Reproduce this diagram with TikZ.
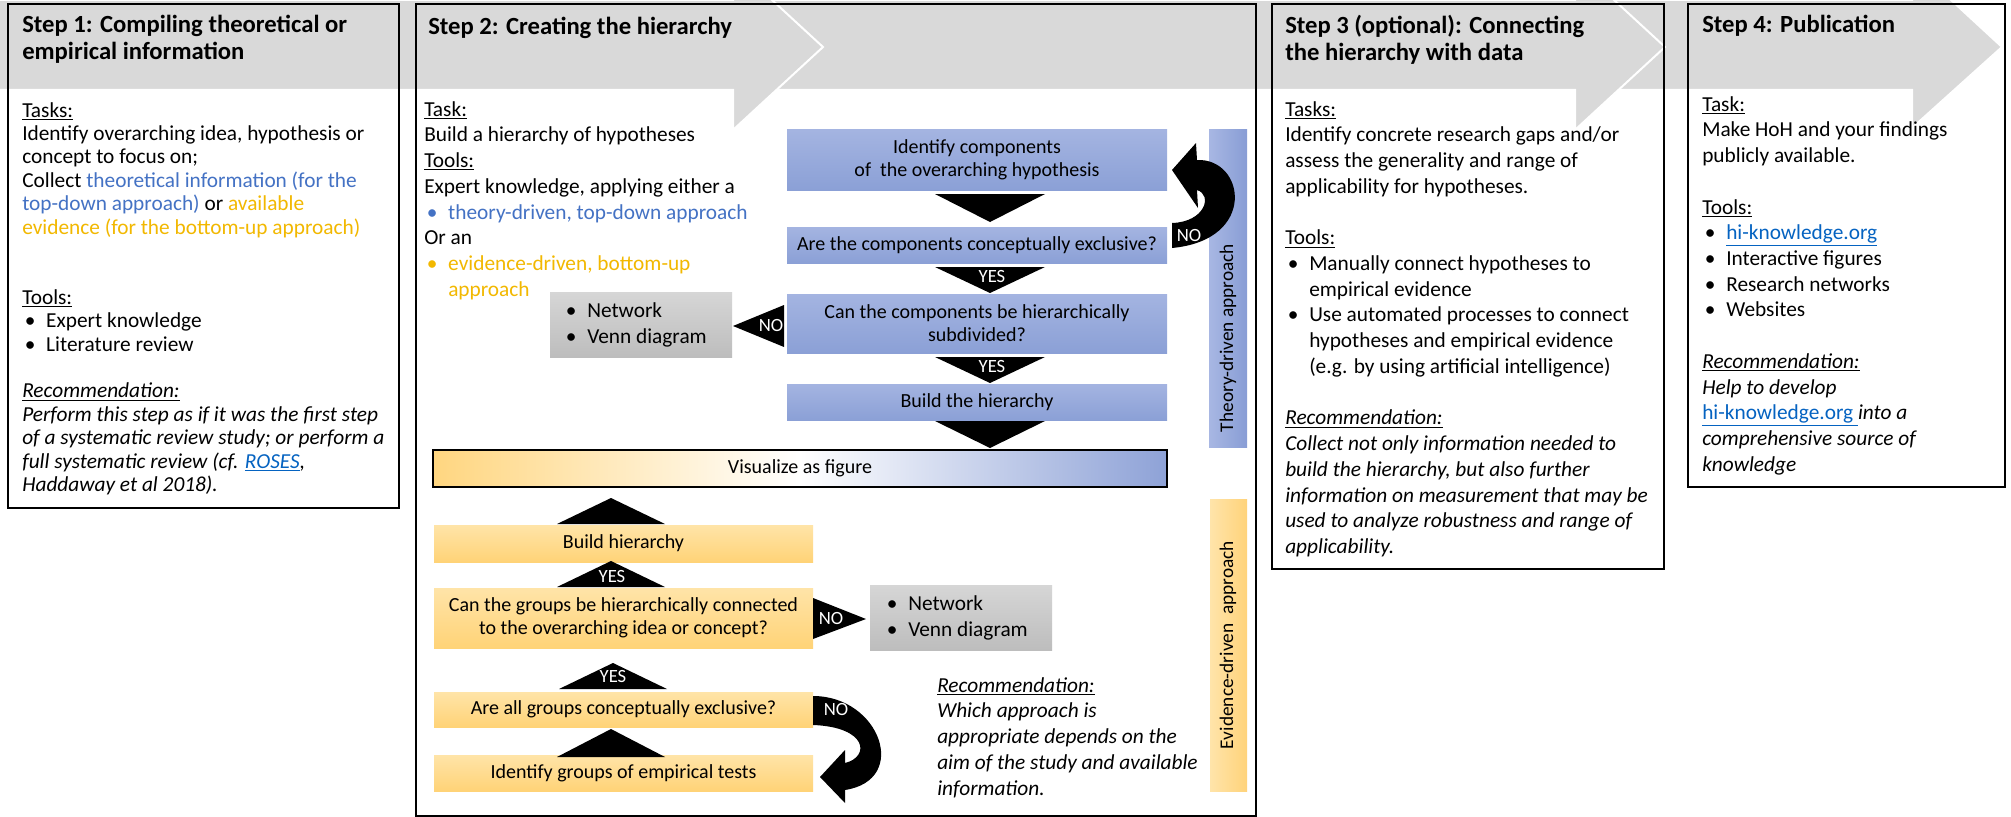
\documentclass[tikz,border=0pt]{standalone}
\usepackage{fontspec}
\setmainfont{Carlito}
\definecolor{band}{HTML}{D9D9D9}
\definecolor{tblue}{HTML}{4472C4}
\definecolor{torange}{HTML}{F2B800}
\definecolor{linkc}{HTML}{0563C1}
\definecolor{blueT}{HTML}{A4B4E1}
\definecolor{blueB}{HTML}{8BA0D6}
\definecolor{orT}{HTML}{FFE4A8}
\definecolor{orB}{HTML}{FFD377}
\definecolor{grT}{HTML}{D6D6D6}
\definecolor{grB}{HTML}{BDBDBD}
\definecolor{visL}{HTML}{FFD680}
\definecolor{visR}{HTML}{8EA2D7}
\definecolor{thL}{HTML}{A8B7E3}
\definecolor{thR}{HTML}{889DD5}
\definecolor{evL}{HTML}{FFE4AA}
\definecolor{evR}{HTML}{FFD37A}
\pgfdeclarehorizontalshading{visshade}{100bp}{color(0bp)=(visL); color(25bp)=(visL); color(50bp)=(white); color(75bp)=(visR); color(100bp)=(visR)}
\newcommand{\bul}{\makebox[18pt][l]{\hspace{2pt}•}}
\newcommand{\ind}{\hspace*{18pt}}
\newcommand{\lnk}[1]{\textcolor{linkc}{\underline{#1}}}
\begin{document}
\begin{tikzpicture}[x=0.75pt,y=-0.75pt,
  bodyA/.style={anchor=north west, inner sep=0, align=left, font=\fontsize{16}{17.55}\selectfont},
  bodyB/.style={anchor=north west, inner sep=0, align=left, font=\fontsize{16}{19.3}\selectfont},
  steptitle/.style={anchor=north west, inner sep=0, align=left, font=\fontsize{18.5}{20.25}\selectfont\bfseries},
  flow/.style={inner sep=0, align=center, font=\fontsize{15}{17.25}\selectfont, minimum width=285pt},
  bluebox/.style={flow, top color=blueT, bottom color=blueB},
  orbox/.style={flow, top color=orT, bottom color=orB, minimum width=284.25pt},
  graybox/.style={inner sep=0, top color=grT, bottom color=grB, minimum width=136.5pt, minimum height=48.75pt},
  graytext/.style={anchor=west, inner sep=0, align=left, font=\fontsize{16}{19.5}\selectfont},
  stepframe/.style={draw=black, line width=1.2pt, inner sep=0},
  tri/.style={fill=black},
  chev/.style={fill=band, draw=white, line width=1.5pt},
  lab/.style={text=white, font=\fontsize{14}{16}\selectfont, inner sep=0},
  vert/.style={rotate=90, inner sep=0, font=\fontsize{14.5}{17}\selectfont},
]
\useasboundingbox (0,0) rectangle (2011,817);
\fill[white] (0,0) rectangle (2011,817);

% background chevron arrows
\begin{scope}
\clip (0,0) rectangle (2011,817);
\path[chev] (1600,0) -- (1912,0) -- (1912,-36) -- (2002,47) -- (1912,128) -- (1912,90) -- (1600,90) -- cycle;
\path[chev] (700,0) -- (1575,0) -- (1575,-36) -- (1665,47) -- (1575,130) -- (1575,90) -- (700,90) -- cycle;
\path[chev] (-5,0) -- (733,0) -- (733,-36) -- (823,47) -- (733,130) -- (733,90) -- (-5,90) -- cycle;
\end{scope}

% step frames
\node[stepframe, minimum width=293.25pt, minimum height=378pt] (s1) at (203.5,256) {};
\node[stepframe, minimum width=630pt, minimum height=609pt] (s2) at (836,410) {};
\node[stepframe, minimum width=294pt, minimum height=423.75pt] (s3) at (1468,286.5) {};
\node[stepframe, minimum width=237.75pt, minimum height=362.25pt] (s4) at (1846.5,245.5) {};

% Step 1
\node[steptitle] (t1) at (22,13.5) {\strut Step 1: Compiling theoretical or\\empirical information};
\node[bodyA] (x1) at (22,100.4) {\strut\underline{Tasks:}\\
Identify overarching idea, hypothesis or\\
concept to focus on;\\
Collect \textcolor{tblue}{theoretical information (for the}\\
\textcolor{tblue}{top-down approach)} or \textcolor{torange}{available}\\
\textcolor{torange}{evidence (for the bottom-up approach)}\\[35.1pt]
\underline{Tools:}\\
\bul Expert knowledge\\
\bul Literature review\\[17.55pt]
\textit{\underline{Recommendation:}}\\
\textit{Perform this step as if it was the first step}\\
\textit{of a systematic review study; or perform a}\\
\textit{full systematic review (cf. \lnk{ROSES},}\\
\textit{Haddaway et al 2018).}};

% Step 2
\node[steptitle] (t2) at (428,15.5) {\strut Step 2: Creating the hierarchy};
\node[bodyB] (x2) at (424,97.8) {\strut\underline{Task:}\\
Build a hierarchy of hypotheses\\
\underline{Tools:}\\
Expert knowledge, applying either a\\
\textcolor{tblue}{\bul theory-driven, top-down approach}\\
Or an\\
\textcolor{torange}{\bul evidence-driven, bottom-up}\\
\textcolor{torange}{\ind approach}};
\node[bodyB] (r2) at (937,673.8) {\strut\textit{\underline{Recommendation:}}\\
\textit{Which approach is}\\
\textit{appropriate depends on the}\\
\textit{aim of the study and available}\\
\textit{information.}};

% approach bars
\node[inner sep=0, left color=thL, right color=thR, minimum width=28.5pt, minimum height=237.75pt] (thbar) at (1228,288.5) {};
\node[vert] (thtxt) at (1228,338) {Theory-driven approach};
\node[inner sep=0, left color=evL, right color=evR, minimum width=27.75pt, minimum height=219pt] (evbar) at (1228.5,645) {};
\node[vert] (evtxt) at (1228,645) {Evidence-driven\ \ approach};

% theory-driven flow
\node[bluebox, minimum height=45pt] (c1) at (977,160) {Identify components\\of\ \ the overarching hypothesis};
\node[bluebox, minimum height=27pt] (c2) at (977,245) {Are the components conceptually exclusive?};
\node[bluebox, minimum height=44.25pt] (c3) at (977,323.5) {Can the components be hierarchically\\subdivided?};
\node[bluebox, minimum height=27pt] (c4) at (977,402) {Build the hierarchy};
\fill[tri] (935,194) -- (1045,194) -- (990,222) -- cycle;
\fill[tri] (935,267) -- (1045,267) -- (990,293) -- cycle;
\node[lab] (y1) at (992,277) {YES};
\fill[tri] (935,357) -- (1045,357) -- (990,383) -- cycle;
\node[lab] (y2) at (992,367) {YES};
\fill[tri] (935,421) -- (1045,421) -- (990,448) -- cycle;

% gray box left
\node[graybox] (g1) at (641,324.5) {};
\node[graytext] (g1t) at (563,325) {\bul Network\\\bul Venn diagram};
\fill[tri] (784,305) -- (784,347) -- (733,326) -- cycle;
\node[lab] (n1) at (771,326) {NO};

% curved NO arrow (theory)
\fill[black] (1172,248) -- (1172,223) .. controls (1205,222) and (1213,195) .. (1197,190) -- (1198,208) -- (1172,170) -- (1196,143) -- (1197,160) .. controls (1245,158) and (1258,240) .. (1172,248) -- cycle;
\node[lab] (n2) at (1189,236) {NO};

% visualize
\node[flow, draw=black, line width=1pt, shade, shading=visshade, minimum width=550.5pt, minimum height=27.75pt] (vis) at (800,468.5) {Visualize as figure};

% evidence-driven flow
\node[orbox, minimum height=27.75pt] (e4) at (623.5,543.5) {Build hierarchy};
\node[orbox, minimum height=45pt] (e3) at (623.5,618) {Can the groups be hierarchically connected\\to the overarching idea or concept?};
\node[orbox, minimum height=26.25pt] (e2) at (623.5,709.5) {Are all groups conceptually exclusive?};
\node[orbox, minimum height=27pt] (e1) at (623.5,773) {Identify groups of empirical tests};
\fill[tri] (557,757) -- (665,757) -- (611,729) -- cycle;
\fill[tri] (559,689) -- (667,689) -- (613,663) -- cycle;
\node[lab] (y3) at (613,677) {YES};
\fill[tri] (557,587) -- (665,587) -- (611,561) -- cycle;
\node[lab] (y4) at (612,577) {YES};
\fill[tri] (557,524) -- (665,524) -- (611,498) -- cycle;

% gray box right
\fill[tri] (813,598) -- (813,639) -- (866,619) -- cycle;
\node[lab] (n3) at (831,619) {NO};
\node[graybox] (g2) at (961,617.5) {};
\node[graytext] (g2t) at (884,618) {\bul Network\\\bul Venn diagram};

% curved NO arrow (evidence)
\fill[black] (813,696) .. controls (880,696) and (910,780) .. (845,790) -- (845,803) -- (820,777) -- (845,750) -- (845,763) .. controls (870,757) and (868,727) .. (813,725) -- cycle;
\node[lab] (n4) at (836,710) {NO};

% Step 3
\node[steptitle] (t3) at (1285,14.5) {\strut Step 3 (optional): Connecting\\the hierarchy with data};
\node[bodyB] (x3) at (1285,97.8) {\strut\underline{Tasks:}\\
Identify concrete research gaps and/or\\
assess the generality and range of\\
applicability for hypotheses.\\[19.3pt]
\underline{Tools:}\\
\bul Manually connect hypotheses to\\
\ind empirical evidence\\
\bul Use automated processes to connect\\
\ind hypotheses and empirical evidence\\
\ind (e.g. by using artificial intelligence)\\[19.3pt]
\textit{\underline{Recommendation:}}\\
\textit{Collect not only information needed to}\\
\textit{build the hierarchy, but also further}\\
\textit{information on measurement that may be}\\
\textit{used to analyze robustness and range of}\\
\textit{applicability.}};

% Step 4
\node[steptitle] (t4) at (1702,13.5) {\strut Step 4: Publication};
\node[bodyB] (x4) at (1702,92.8) {\strut\underline{Task:}\\
Make HoH and your findings\\
publicly available.\\[19.3pt]
\underline{Tools:}\\
\bul\lnk{hi-knowledge.org}\\
\bul Interactive figures\\
\bul Research networks\\
\bul Websites\\[19.3pt]
\textit{\underline{Recommendation:}}\\
\textit{Help to develop}\\
\lnk{hi-knowledge.org\ }\textit{into a}\\
\textit{comprehensive source of}\\
\textit{knowledge}};
\end{tikzpicture}
\end{document}
